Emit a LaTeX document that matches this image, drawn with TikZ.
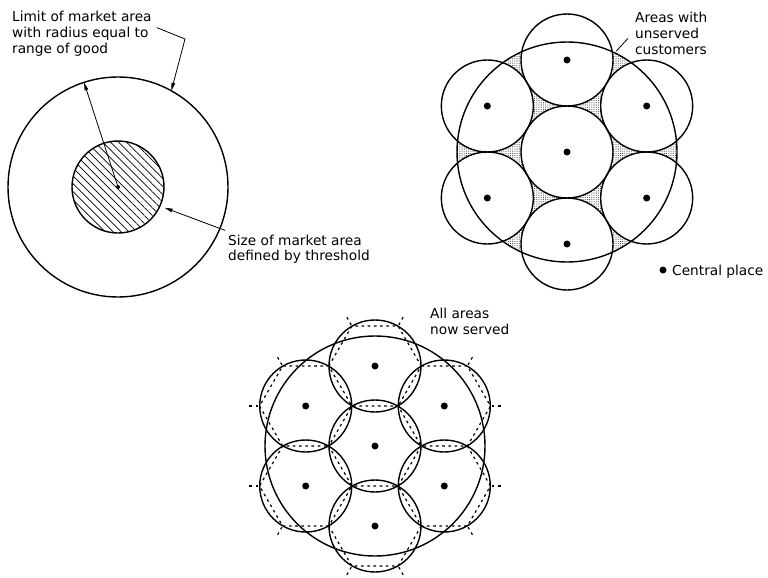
\documentclass[tikz,border=0pt]{standalone}
\usepackage{fontspec}
\setmainfont{DejaVu Sans}
\usetikzlibrary{arrows.meta, patterns.meta, calc}

\begin{document}
\begin{tikzpicture}[
        x=1pt, y=-1pt,
        ring/.style={draw, line width=1.4pt},
        hexedge/.style={line width=1.2pt, dash pattern=on 2.6pt off 3.6pt},
        arr/.style={-{Triangle[length=8pt, width=3.6pt]}, line width=0.8pt},
        lbl/.style={font=\fontsize{13.7}{15.7}\selectfont, align=left, inner sep=0pt, anchor=base west},
        place/.style={circle, fill, inner sep=0pt, minimum size=7pt}
    ]
    \useasboundingbox (0,0) rectangle (768,578);

    \coordinate (mc) at (118,187);
    \draw[ring] (mc) circle[radius=110];
    \draw[ring, pattern={Lines[angle=-45, distance=5.6pt, line width=0.7pt]}] (mc) circle[radius=46];
    \fill (mc) circle[radius=2];
    \coordinate (mcrim) at ($(mc)+(-108:110)$);
    \draw[arr] (mc) -- (mcrim);

    \node[lbl] (limit) at (12,53.1) {Limit of market area\\with radius equal to\\range of good};
    \coordinate (limbend) at (185,39);
    \coordinate (limrim) at ($(mc)+(-61:110)$);
    \draw[arr] ([shift={(5pt,6pt)}]limit.east) -- (limbend) -- (limrim);

    \node[lbl] (size) at (228,260.7) {Size of market area\\defined by threshold};
    \coordinate (sizerim) at ($(mc)+(24:51)$);
    \draw[arr] ([shift={(-3pt,4pt)}]size.north west) -- (sizerim);

    \coordinate (tc) at (567,152);
    \fill[pattern={Dots[distance=2.2pt, radius=0.55pt]}, pattern color=black!75] (tc) circle[radius=110];
    \fill[white] (tc) circle[radius=46];
    \foreach \a in {30,90,...,330}
        \fill[white] ($(tc)+(\a:92)$) circle[radius=46];
    \draw[ring] (tc) circle[radius=110];
    \draw[ring] (tc) circle[radius=46];
    \node[place] (t0) at (tc) {};
    \foreach \a in {30,90,...,330} {
        \draw[ring] ($(tc)+(\a:92)$) circle[radius=46];
        \node[place] (t\a) at ($(tc)+(\a:92)$) {};
    }

    \node[lbl] (unserved) at (635,54.1) {Areas with\\unserved\\customers};
    \coordinate (gap) at ($(tc)+(-64:112)$);
    \draw[line width=0.8pt] ([shift={(-7pt,-5pt)}]unserved.west) -- (gap);

    \node[place] (legdot) at (663,270) {};
    \node[lbl] (legend) at (672,275) {Central place};

    \coordinate (bc) at (375,446);
    \draw[ring] (bc) circle[radius=110];
    \draw[ring] (bc) circle[radius=46];
    \node[place] (b0) at (bc) {};
    \draw[hexedge] ($(bc)+(0:46.19)$) \foreach \v in {60,120,...,300} { -- ($(bc)+(\v:46.19)$) } -- cycle;
    \foreach \a in {30,90,...,330} {
        \coordinate (h\a) at ($(bc)+(\a:80)$);
        \draw[ring] (h\a) circle[radius=46];
        \node[place] (b\a) at (h\a) {};
        \draw[hexedge] ($(h\a)+(\a-90:46.19)$) -- ($(h\a)+(\a-30:46.19)$) -- ($(h\a)+(\a+30:46.19)$)
            -- ($(h\a)+(\a+90:46.19)$) -- ($(h\a)+(\a+150:46.19)$);
        \draw[hexedge] ($(h\a)+(\a-30:47.5)$) -- ($(h\a)+(\a-30:59)$);
        \draw[hexedge] ($(h\a)+(\a+30:47.5)$) -- ($(h\a)+(\a+30:59)$);
    }

    \node[lbl] (served) at (430,334.2) {All areas\\now served};
\end{tikzpicture}
\end{document}
